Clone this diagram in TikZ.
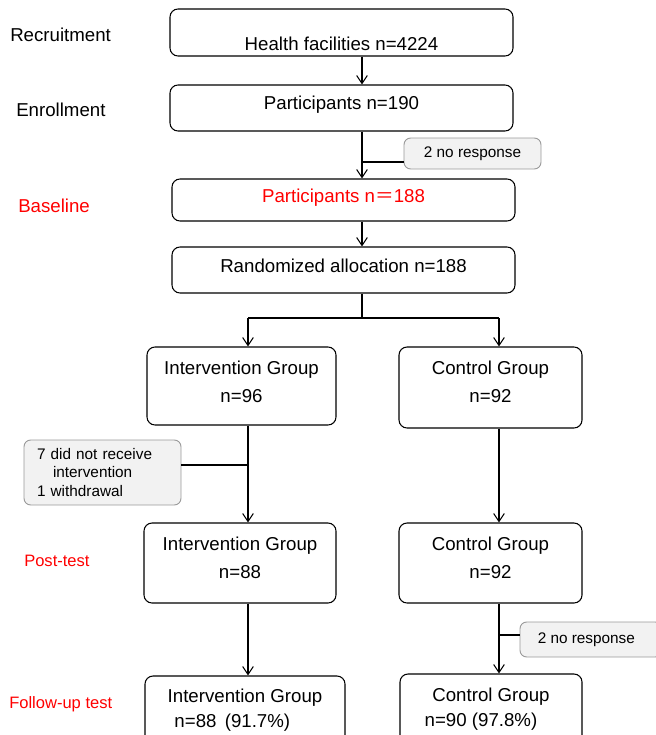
\documentclass[tikz,border=0pt]{standalone}
\usepackage{fontspec}
\setmainfont{Liberation Sans}
\newfontfamily\cjk{Noto Sans CJK SC}
\usetikzlibrary{arrows.meta}

\begin{document}
\begin{tikzpicture}[x=0.75pt, y=-0.75pt,
  font=\fontsize{14}{21}\selectfont,
  >={Straight Barb[length=6pt, width=8pt]},
  box/.style={draw, rounded corners=6pt, line width=0.8pt, inner sep=0pt, align=center},
  note/.style={draw=gray!80, fill=gray!10, rounded corners=5pt, line width=0.7pt,
    inner sep=0pt, font=\fontsize{11.5}{14}\selectfont},
  stage/.style={anchor=west, inner sep=0pt},
  arr/.style={->, line width=0.8pt},
  ln/.style={line width=0.8pt}]
  \useasboundingbox (0,0) rectangle (656,735);
  \clip (0,0) rectangle (656,735);

  \coordinate (cM) at (362,0);
  \coordinate (cL) at (248,0);
  \coordinate (cR) at (499,0);

  \node[stage] (recr) at (10,35) {Recruitment};
  \node[stage] (enrl) at (16,110) {Enrollment};
  \node[stage, text=red] (base) at (18,206) {Baseline};
  \node[stage, text=red, font=\fontsize{12.4}{15}\selectfont] (post) at (24,561) {Post-test};
  \node[stage, text=red, font=\fontsize{12.4}{15}\selectfont] (foll) at (9,704) {Follow-up test};

  \node[box, minimum width=257.25pt, minimum height=35.25pt,
    text height=27.3pt, text depth=0pt] (hf) at (341.5,32.5) {Health facilities n=4224};
  \node[box, minimum width=257.25pt, minimum height=34.5pt,
    text height=10.1pt, text depth=8.3pt] (p190) at (341.5,108) {Participants n=190};
  \node[note, minimum width=102.75pt, minimum height=23.25pt] (nr1) at (472.5,153.5) {2 no response};
  \node[box, text=red, minimum width=257.25pt, minimum height=31.5pt,
    text height=10.1pt, text depth=6.1pt] (p188) at (343.5,200) {Participants n{\cjk ＝}188};
  \node[box, minimum width=257.25pt, minimum height=34.5pt,
    text height=10.1pt, text depth=6.1pt] (rand) at (343.5,270) {Randomized allocation n=188};

  \node[box, minimum width=141.75pt, minimum height=58.5pt, text depth=6pt] (ig1) at (241.5,386) {Intervention Group\\n=96};
  \node[box, minimum width=137.25pt, minimum height=60.75pt, text depth=8.2pt] (cg1) at (490.5,387.5) {Control Group\\n=92};
  \node[note, align=left, text width=98.25pt, inner xsep=9.75pt, minimum height=48.75pt]
    (excl) at (102.5,472.5) {7 did not receive\\\hspace*{12pt}intervention\\1 withdrawal};

  \node[box, minimum width=144pt, minimum height=60pt, text depth=7.5pt] (ig2) at (240,563) {Intervention Group\\n=88};
  \node[box, minimum width=137.25pt, minimum height=60pt, text depth=7.5pt] (cg2) at (490.5,563) {Control Group\\n=92};
  \node[note, minimum width=106.5pt, minimum height=26.25pt] (nr2) at (591,639.5) {2 no response\hspace*{7pt}};

  \node[box, minimum width=150pt, minimum height=51.75pt,
    font=\fontsize{14}{18.75}\selectfont] (ig3) at (245,710.5) {Intervention Group\\n=88\ \,(91.7\%)\hspace*{19pt}};
  \node[box, minimum width=136.5pt, minimum height=53.25pt,
    font=\fontsize{14}{18.75}\selectfont] (cg3) at (491,709.5) {Control Group\\n=90 (97.8\%)\hspace*{15pt}};

  \coordinate (b1) at (362,162);
  \coordinate (sp) at (362,318);
  \coordinate (b2) at (248,465);
  \coordinate (b3) at (499,635);

  \draw[arr] (hf.south -| cM) -- (p190.north -| cM);
  \draw[arr] (p190.south -| cM) -- (p188.north -| cM);
  \draw[ln] (b1) -- (b1 -| nr1.west);
  \draw[arr] (p188.south -| cM) -- (rand.north -| cM);
  \draw[ln] (rand.south -| cM) -- (sp);
  \draw[ln] (sp -| cL) -- (sp -| cR);
  \draw[arr] (sp -| cL) -- (ig1.north -| cL);
  \draw[arr] (sp -| cR) -- (cg1.north -| cR);

  \draw[arr] (ig1.south -| cL) -- (ig2.north -| cL);
  \draw[ln] (excl.east |- b2) -- (b2);
  \draw[arr] (cg1.south -| cR) -- (cg2.north -| cR);

  \draw[arr] (ig2.south -| cL) -- (ig3.north -| cL);
  \draw[arr] (cg2.south -| cR) -- (cg3.north -| cR);
  \draw[ln] (b3) -- (b3 -| nr2.west);
\end{tikzpicture}
\end{document}
